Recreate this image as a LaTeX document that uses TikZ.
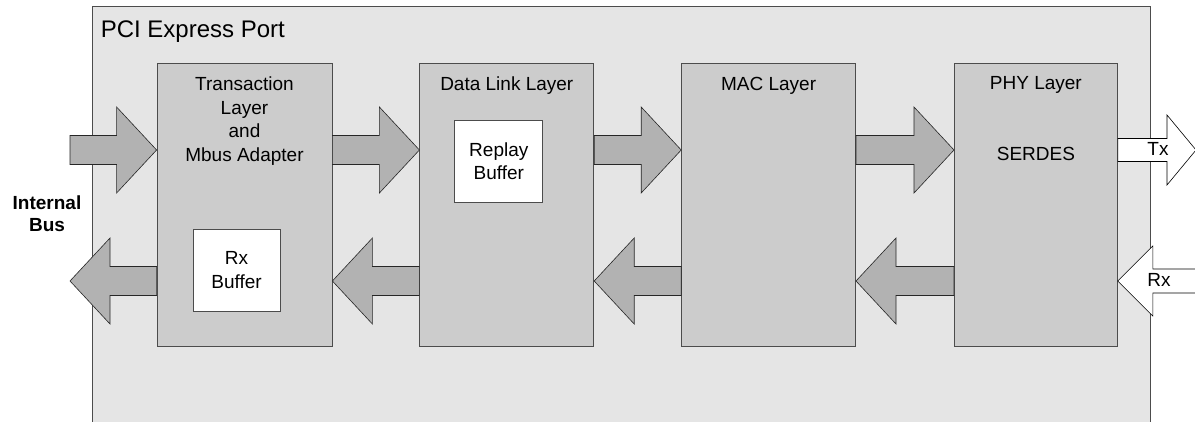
\documentclass[tikz,border=0pt]{standalone}
\usepackage{fontspec}
\setmainfont{Liberation Sans}
\usepackage{tikz}
\usetikzlibrary{positioning,calc}

\definecolor{portgray}{gray}{0.9}
\definecolor{layergray}{gray}{0.8}
\definecolor{busgray}{gray}{0.7}
\definecolor{edgegray}{gray}{0.3}

% fat arrow: [style]{from}{tip}{shaft half width}{head half width}{head length}
\newcommand{\busarrow}[6][bus]{%
  \draw[#1] let \p1=(#2), \p2=(#3), \n1={ifthenelse(\x2>\x1,1,-1)} in
    (\x1,{\y1+#4}) -- ({\x2-(\n1)*#6},{\y1+#4}) -- ({\x2-(\n1)*#6},{\y1+#5})
    -- (\x2,\y2) -- ({\x2-(\n1)*#6},{\y1-#5}) -- ({\x2-(\n1)*#6},{\y1-#4})
    -- (\x1,{\y1-#4}) -- cycle;}

\begin{document}
\begin{tikzpicture}[
    x=1pt, y=-1pt,
    every node/.style={
        inner sep=0pt,
        font=\fontsize{19}{23.5}\selectfont
    },
    port/.style={draw=edgegray, fill=portgray, line width=0.8pt,
        minimum width=1058pt, minimum height=440pt},
    layer/.style={draw=edgegray, fill=layergray, line width=0.8pt,
        minimum width=174pt, minimum height=283pt},
    buffer/.style={draw=edgegray, fill=white, line width=0.8pt,
        minimum width=88pt, minimum height=82pt, align=center},
    title/.style={align=center},
    bus/.style={draw=black!85, fill=busgray, line width=0.6pt},
    wire/.style={draw=black, fill=white, line width=0.6pt}
]
\useasboundingbox (0,0) rectangle (1195,421);
\clip (0,0) rectangle (1195,421);

\node[port] (port) at (621,226) {};
\node[anchor=north west, font=\fontsize{24}{28}\selectfont,
    below right=15pt and 9pt of port.north west] (porttitle) {PCI Express Port};

% the four layers
\node[layer, minimum width=175pt] (tl) at (244.5,204.5) {};
\node[layer, right=87pt of tl] (dl) {};
\node[layer, right=87pt of dl] (mac) {};
\node[layer, minimum width=163pt, right=98pt of mac] (phy) {};

\node[title, below=14pt of tl.north] (tltitle) {Transaction\\Layer\\and\\Mbus Adapter};
\node[title, below=14pt of dl.north] (dltitle) {Data Link Layer};
\node[title, below=14pt of mac.north] (mactitle) {MAC Layer};
\node[title, below=14pt of phy.north] (phytitle) {PHY Layer};
\node[below=84pt of phy.north] (serdes) {SERDES};

\node[buffer, minimum width=87pt, below right=166pt and 36pt of tl.north west] (rxbuf) {Rx\\Buffer};
\node[buffer, below right=57pt and 35pt of dl.north west] (replay) {Replay\\Buffer};

\node[font=\fontsize{19}{22}\selectfont\bfseries, align=center] (ibus) at (47,214) {Internal\\Bus};

% bus arrows
\coordinate (fwd) at (0,150);
\coordinate (bwd) at (0,281);
\coordinate (busin) at (70,150);
\coordinate (busout) at (70,281);
\coordinate (txend) at (1196,150);
\coordinate (rxend) at (1240,281);

\busarrow{busin}{tl.west |- fwd}{14.5pt}{43pt}{40pt}
\busarrow{tl.west |- bwd}{busout}{14.5pt}{43pt}{40pt}
\foreach \a/\b in {tl/dl, dl/mac, mac/phy}{
    \busarrow{\a.east |- fwd}{\b.west |- fwd}{14.5pt}{43pt}{40pt}
    \busarrow{\b.west |- bwd}{\a.east |- bwd}{14.5pt}{43pt}{40pt}
}
\busarrow[wire]{phy.east |- fwd}{txend}{11.5pt}{35pt}{29pt}
\busarrow[wire]{rxend}{phy.east |- bwd}{12pt}{35pt}{35pt}

\node (tx) at (1158,149) {Tx};
\node (rx) at (1159,280) {Rx};
\end{tikzpicture}
\end{document}
